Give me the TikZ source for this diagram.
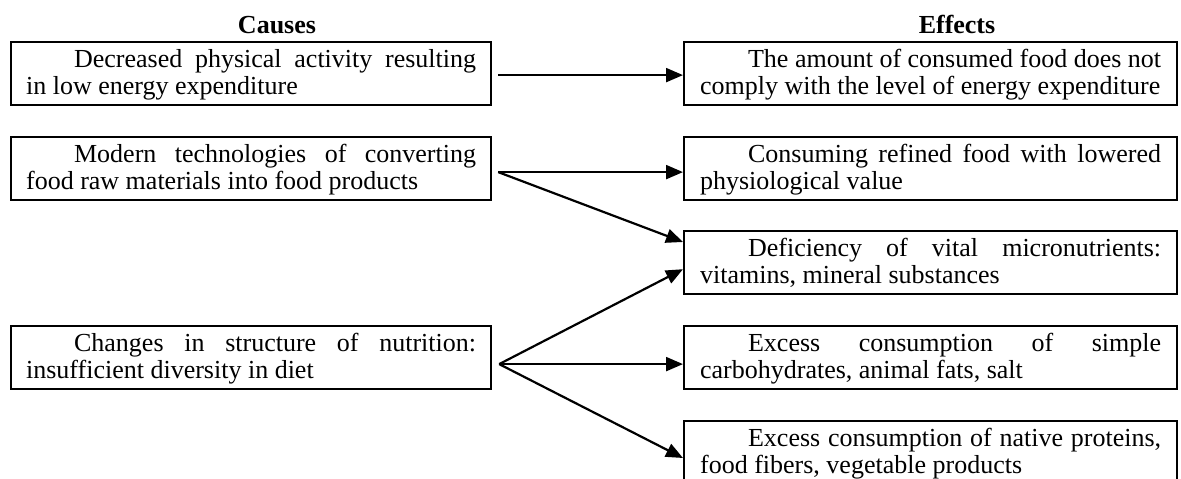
\documentclass[tikz,border=0pt]{standalone}
\usepackage{fontspec}
\setmainfont{Liberation Serif}
\usetikzlibrary{arrows.meta}
\newcommand{\mytop}{\rule{0pt}{22.75pt}}
\newcommand{\mybot}{\rule[-8.25pt]{0pt}{0pt}}
\begin{document}
\begin{tikzpicture}[x=1pt,y=-1pt,
  box/.style={draw, line width=2.2pt, anchor=north west, minimum height=63pt,
    align=justify, font=\fontsize{26pt}{27.5pt}\selectfont, inner ysep=0pt},
  lbox/.style={box, text width=450pt, inner xsep=15pt},
  rbox/.style={box, text width=461pt, inner xsep=16pt},
  head/.style={font=\fontsize{26pt}{27.5pt}\selectfont\bfseries, anchor=base, inner sep=0pt},
  arr/.style={line width=2.2pt, -{Triangle[length=17pt,width=14pt]}}]
\clip (0,0) rectangle (1181,479);
\node[head] (hc) at (277,34) {Causes};
\node[head] (he) at (957,34) {Effects};
\node[lbox] (L1) at (10,41) {\mytop\hspace*{48pt}Decreased physical activity resulting\linebreak in low energy expenditure\mybot};
\node[lbox] (L2) at (10,136) {\mytop\hspace*{48pt}Modern technologies of converting\linebreak food raw materials into food products\mybot};
\node[lbox] (L3) at (10,325) {\mytop\hspace*{48pt}Changes in structure of nutrition:\linebreak insufficient diversity in diet\mybot};
\node[rbox] (R1) at (683,41) {\mytop\hspace*{48pt}The amount of consumed food does not\linebreak comply with the level of energy expenditure\mybot};
\node[rbox] (R2) at (683,136) {\mytop\hspace*{48pt}Consuming refined food with lowered\linebreak physiological value\mybot};
\node[rbox] (R3) at (683,230) {\mytop\hspace*{48pt}Deficiency of vital micronutrients:\linebreak vitamins, mineral substances\mybot};
\node[rbox] (R4) at (683,325) {\mytop\hspace*{48pt}Excess consumption of simple\linebreak carbohydrates, animal fats, salt\mybot};
\node[rbox] (R5) at (683,420) {\mytop\hspace*{48pt}Excess consumption of native proteins,\linebreak food fibers, vegetable products\mybot};
\draw[arr] ([shift={(6,1.5)}]L1.east) -- ([shift={(0,1.5)}]R1.west);
\draw[arr] ([shift={(6,3.5)}]L2.east) -- ([shift={(0,3.5)}]R2.west);
\draw[arr] ([shift={(6,3.5)}]L2.east) -- ([shift={(0,12)}]R3.north west);
\draw[arr] ([shift={(7,6.5)}]L3.east) -- ([shift={(0,-26)}]R3.south west);
\draw[arr] ([shift={(7,6.5)}]L3.east) -- ([shift={(0,6.5)}]R4.west);
\draw[arr] ([shift={(7,6.5)}]L3.east) -- ([shift={(0,38)}]R5.north west);
\end{tikzpicture}
\end{document}
